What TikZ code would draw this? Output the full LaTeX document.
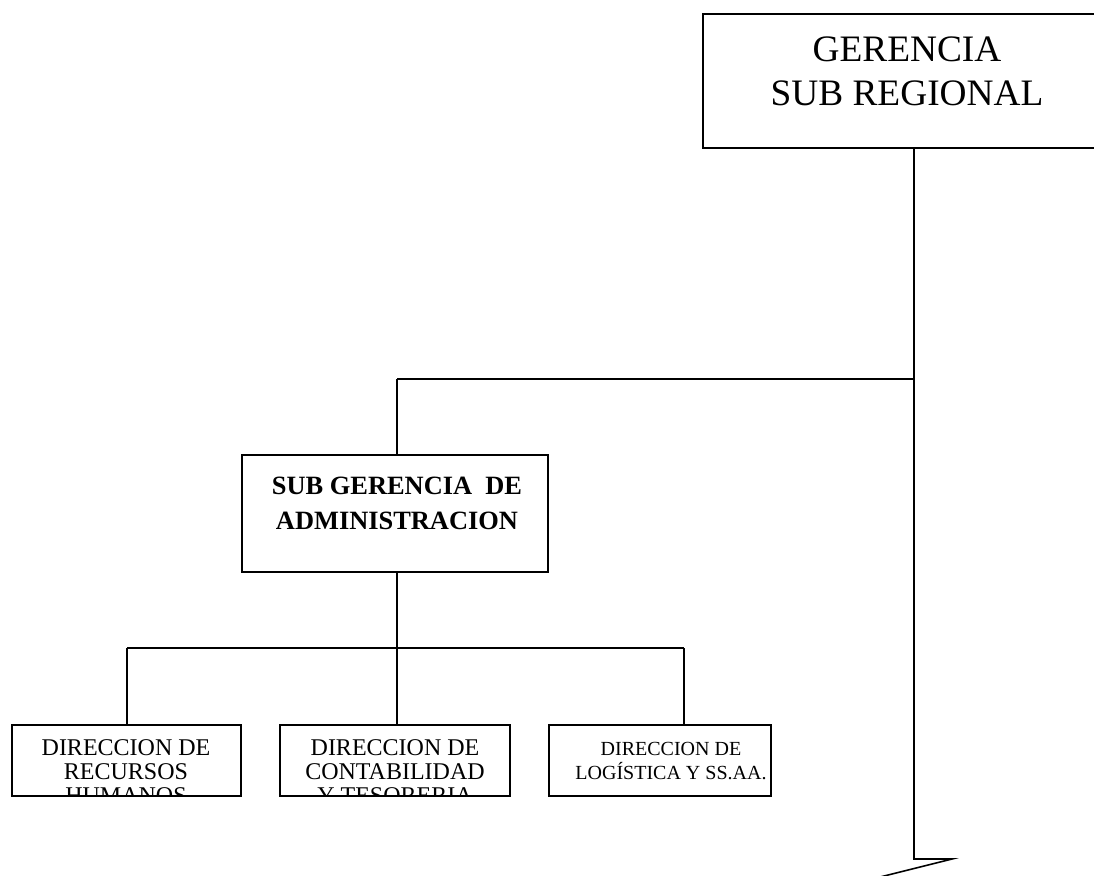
\documentclass[tikz,border=0pt]{standalone}
\usepackage{fontspec}
\setmainfont{Liberation Serif}
\begin{document}
\begin{tikzpicture}[x=0.75pt,y=-0.75pt,
  box/.style={draw, line width=1.2pt, rectangle, inner sep=0pt},
  txt/.style={anchor=north, align=center, inner sep=0pt},
  link/.style={draw, line width=1.2pt}]
\useasboundingbox (0,0) rectangle (1094,875);
\clip (0,0) rectangle (1094,875);

% boxes
\node[box, minimum width=303pt, minimum height=100.5pt] (gsr) at (905,81) {};
\node[box, minimum width=229.5pt, minimum height=87.75pt] (sga) at (395,513.5) {};
\node[box, minimum width=171.75pt, minimum height=53.25pt] (rh) at (126.5,760.5) {};
\node[box, minimum width=172.5pt, minimum height=53.25pt] (ct) at (395,760.5) {};
\node[box, minimum width=166.5pt, minimum height=53.25pt] (lg) at (660,760.5) {};

% box texts
\node[txt, font=\fontsize{28}{32.5}\selectfont] (gsrtext) at (907,37) {GERENCIA\\SUB REGIONAL};
\node[txt, font=\bfseries\fontsize{19.8}{26}\selectfont] (sgatext) at (397,477) {SUB GERENCIA\ \ DE\\ADMINISTRACION};
\begin{scope}
  \clip (rh.south west) rectangle (rh.north east);
  \node[txt, font=\fontsize{18}{18.3}\selectfont] (rhtext) at (126,739) {DIRECCION DE\\RECURSOS\\HUMANOS};
\end{scope}
\begin{scope}
  \clip (ct.south west) rectangle (ct.north east);
  \node[txt, font=\fontsize{18}{18.3}\selectfont] (cttext) at (395,739) {DIRECCION DE\\CONTABILIDAD\\Y TESORERIA};
\end{scope}
\node[txt, font=\fontsize{15}{18}\selectfont] (lgtext) at (671,742) {DIRECCION DE\\LOGÍSTICA Y SS.AA.};

% connector points
\coordinate (j1) at (914,379);
\coordinate (j0) at (397,379);
\coordinate (trunkbot) at (914,859);
\coordinate (tip) at (952,859);
\coordinate (tail) at (830,889.5);
\coordinate (h0) at (127,648);
\coordinate (hm) at (397,648);
\coordinate (h1) at (684,648);

% connectors
\draw[link] (gsr.south -| j1) -- (trunkbot) -- (tip) -- (tail);
\draw[link] (j0) -- (j1);
\draw[link] (j0) -- (sga.north -| j0);
\draw[link] (sga.south -| hm) -- (hm);
\draw[link] (h0) -- (h1);
\draw[link] (h0) -- (rh.north -| h0);
\draw[link] (hm) -- (ct.north -| hm);
\draw[link] (h1) -- (lg.north -| h1);
\end{tikzpicture}
\end{document}
